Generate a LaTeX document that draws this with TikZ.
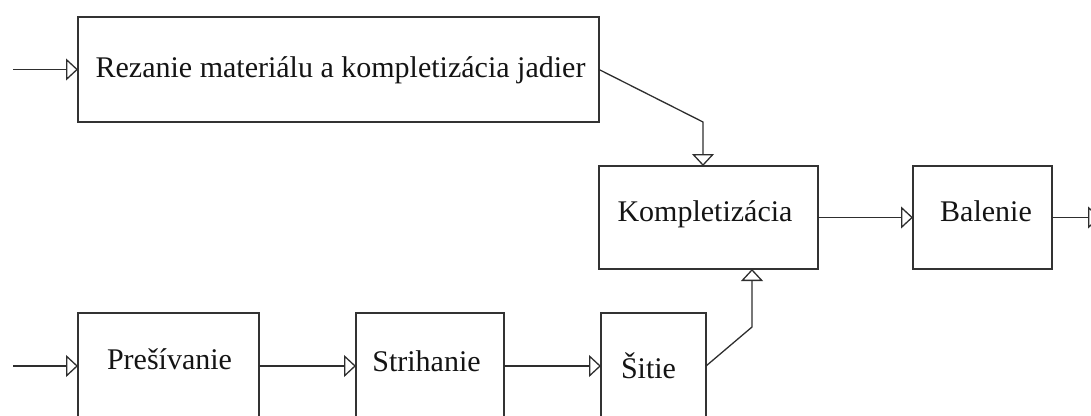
\documentclass[tikz,border=0pt]{standalone}
\usepackage{fontspec}
\setmainfont{Liberation Serif}
\usetikzlibrary{arrows.meta}
\tikzset{
  box/.style={draw=black!80, line width=1.5pt, inner sep=0pt, outer sep=0pt, fill=white},
  lbl/.style={inner sep=0pt, outer sep=0pt, anchor=base, text=black!92, font=\fontsize{30}{36}\selectfont},
  flow/.style={draw=black!82, line width=1.3pt, -{Triangle[open, length=12pt, width=22pt]}}
}
\begin{document}
\begin{tikzpicture}[x=1pt,y=-1pt]
\useasboundingbox (0,0) rectangle (1091,415);
\clip (0,0) rectangle (1091,415);
% boxes
\node[box, minimum width=521pt, minimum height=105pt] (rez) at (338.5,69.5) {};
\node[box, minimum width=219pt, minimum height=103pt] (komp) at (708.5,217.5) {};
\node[box, minimum width=139pt, minimum height=103pt] (bal) at (982.5,217.5) {};
\node[box, minimum width=181pt, minimum height=106pt] (pres) at (168.5,366) {};
\node[box, minimum width=148pt, minimum height=106pt] (stri) at (430,366) {};
\node[box, minimum width=105pt, minimum height=106pt] (sit) at (653.5,366) {};
% labels
\node[lbl] (rezT) at (340.5,77) {Rezanie materiálu a kompletizácia jadier};
\node[lbl] (kompT) at (705,221) {Kompletizácia};
\node[lbl] (balT) at (986,221) {Balenie};
\node[lbl] (presT) at (169.5,369) {Prešívanie};
\node[lbl] (striT) at (426.5,371) {Strihanie};
\node[lbl] (sitT) at (648.5,378) {Šitie};
% free ends and elbows
\coordinate (in1) at (13,69.5);
\coordinate (in2) at (13,366);
\coordinate (out) at (1100,217.5);
\coordinate (e1) at (703,122);
\coordinate (e2) at (752,327);
% connectors
\draw[flow] (in1) -- (rez.west);
\draw[flow] (in2) -- (pres.west);
\draw[flow] (pres.east) -- (stri.west);
\draw[flow] (stri.east) -- (sit.west);
\draw[flow] (rez.east) -- (e1) -- (e1 |- komp.north);
\draw[flow] (sit.east) -- (e2) -- (e2 |- komp.south);
\draw[flow] (komp.east) -- (bal.west);
\draw[flow] (bal.east) -- (out);
\end{tikzpicture}
\end{document}
